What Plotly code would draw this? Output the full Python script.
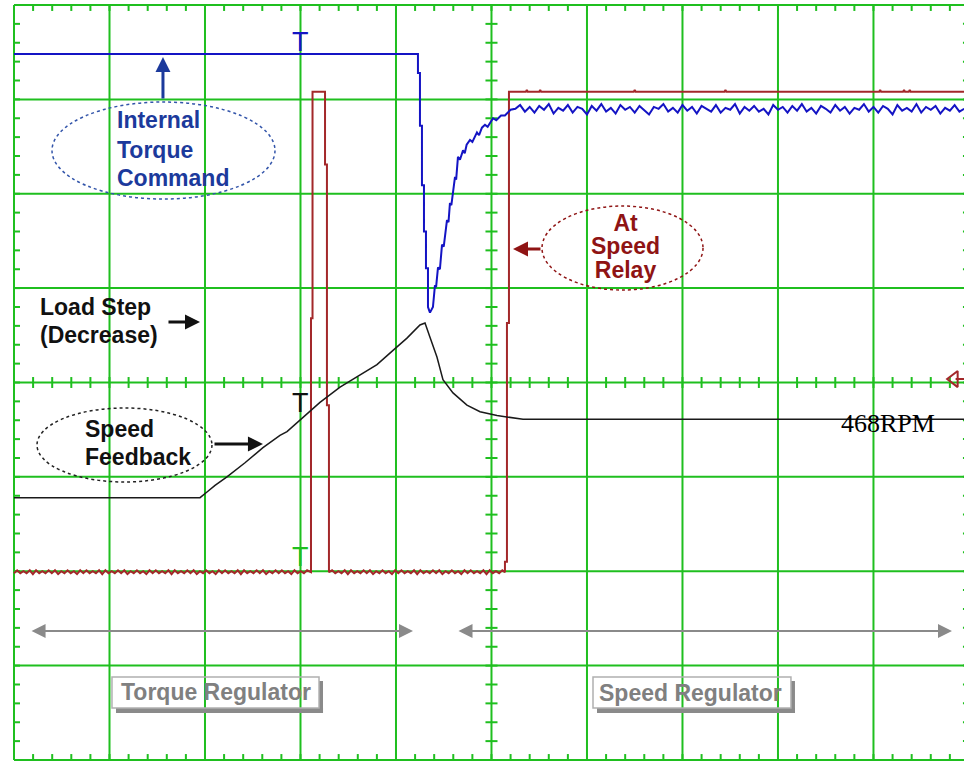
import numpy as np
import plotly.graph_objects as go

# ---------------- data (x and y in screen divisions) ----------------
X_MAX = 9.948

# Internal Torque Command (blue)
blue_x = [0, 4.23, 4.23, 4.251, 4.251, 4.272, 4.272, 4.293, 4.293, 4.314,
          4.314, 4.335, 4.335, 4.356, 4.387, 4.408, 4.42, 4.44, 4.46, 4.482,
          4.50, 4.513, 4.534, 4.55, 4.565, 4.58, 4.597, 4.618, 4.63, 4.649,
          4.67, 4.702, 4.72, 4.74, 4.775, 4.80, 4.848, 4.87, 4.90, 4.932,
          4.96, 5.016, 5.05, 5.10, 5.141, 5.20]
blue_y = [7.48, 7.48, 7.28, 7.28, 6.72, 6.72, 6.09, 6.09, 5.60, 5.60,
          5.21, 5.21, 4.80, 4.74, 4.80, 5.03, 5.01, 5.22, 5.20, 5.46,
          5.44, 5.56, 5.72, 5.70, 5.90, 5.88, 6.04, 6.18, 6.15, 6.39,
          6.36, 6.46, 6.43, 6.52, 6.57, 6.55, 6.65, 6.62, 6.70, 6.73,
          6.71, 6.80, 6.78, 6.83, 6.83, 6.89]
blue_noise_start = 5.25
blue_noise_step = 0.05
blue_noise = [6.90, 6.94, 6.87, 6.92, 6.86, 6.93, 6.89, 6.95, 6.85, 6.91,
              6.88, 6.94, 6.86, 6.92, 6.90, 6.84, 6.93, 6.88, 6.95, 6.87,
              6.91, 6.85, 6.94, 6.89, 6.92, 6.86, 6.93, 6.88, 6.84, 6.92,
              6.90, 6.95, 6.87, 6.91, 6.86, 6.94, 6.88, 6.92, 6.85, 6.93,
              6.90, 6.87, 6.94, 6.86, 6.91, 6.89, 6.95, 6.85, 6.92, 6.88,
              6.93, 6.87, 6.90, 6.84, 6.94, 6.89, 6.92, 6.86, 6.93, 6.88,
              6.95, 6.87, 6.91, 6.85, 6.93, 6.90, 6.86, 6.94, 6.88, 6.92,
              6.85, 6.91, 6.89, 6.95, 6.87, 6.92, 6.86, 6.93, 6.90, 6.84,
              6.94, 6.88, 6.91, 6.87, 6.95, 6.86, 6.92, 6.89, 6.93, 6.85,
              6.91, 6.88, 6.94, 6.87, 6.90]

# Speed Feedback (black)
black_x = [0, 1.948, 2.021, 2.105, 2.230, 2.419, 2.607, 2.785, 2.859, 2.995,
           3.131, 3.204, 3.414, 3.592, 3.801, 3.969, 4.115, 4.251, 4.304, 4.356,
           4.429, 4.492, 4.597, 4.743, 4.880, 5.058, 5.330, X_MAX]
black_y = [2.78, 2.78, 2.84, 2.91, 3.00, 3.15, 3.31, 3.44, 3.48, 3.60,
           3.73, 3.79, 3.95, 4.06, 4.19, 4.34, 4.47, 4.61, 4.63, 4.48,
           4.27, 4.03, 3.89, 3.76, 3.69, 3.65, 3.61, 3.61]

# At Speed Relay (red)
ripple_step = 0.033
ripple_a_start = 0.0
ripple_a = [1.98, 2.01, 1.98, 2.00, 1.98, 2.01, 1.97, 2.01, 1.98, 2.00,
            1.98, 2.01, 1.98, 2.01, 1.97, 2.00, 1.98, 2.01, 1.98, 2.00,
            1.97, 2.01, 1.98, 2.01, 1.98, 2.00, 1.98, 2.01, 1.97, 2.01,
            1.98, 2.00, 1.98, 2.01, 1.98, 2.01, 1.97, 2.00, 1.98, 2.01,
            1.98, 2.00, 1.97, 2.01, 1.98, 2.01, 1.98, 2.00, 1.98, 2.01,
            1.97, 2.01, 1.98, 2.00, 1.98, 2.01, 1.98, 2.01, 1.97, 2.00,
            1.98, 2.01, 1.98, 2.00, 1.97, 2.01, 1.98, 2.01, 1.98, 2.00,
            1.98, 2.01, 1.97, 2.01, 1.98, 2.00, 1.98, 2.01, 1.98, 2.01,
            1.97, 2.00, 1.98, 2.01, 1.98, 2.01, 1.98, 2.00, 1.97, 2.01,
            1.98, 2.00, 1.98, 2.01]
red_pulse_x = [3.11, 3.11, 3.126, 3.126, 3.257, 3.257, 3.277, 3.277, 3.298, 3.298]
red_pulse_y = [1.99, 4.68, 4.68, 7.08, 7.08, 6.31, 6.31, 3.76, 3.76, 1.99]
ripple_b_start = 3.331
ripple_b = [2.01, 1.98, 2.00, 1.98, 2.01, 1.97, 2.01, 1.98, 2.00, 1.98,
            2.01, 1.98, 2.01, 1.97, 2.00, 1.98, 2.01, 1.98, 2.00, 1.97,
            2.01, 1.98, 2.01, 1.98, 2.00, 1.98, 2.01, 1.97, 2.01, 1.98,
            2.00, 1.98, 2.01, 1.98, 2.01, 1.97, 2.00, 1.98, 2.01, 1.98,
            2.00, 1.97, 2.01, 1.98, 2.01, 1.98, 2.00, 1.98, 2.01, 1.97,
            2.01, 1.98, 2.00, 1.98, 2.01]
red_rise_x = [5.141, 5.141, 5.162, 5.162, 5.183, 5.183, 5.36, 5.37, 5.38, 5.50, 5.51,
              5.52, 6.49, 6.50, 6.51, 7.44, 7.45, 7.46, 9.06, 9.07, 9.08, 9.31,
              9.32, 9.33, 9.37, 9.38, 9.39, X_MAX]
red_rise_y = [1.99, 2.10, 2.10, 4.63, 4.63, 7.08, 7.08, 7.10, 7.08, 7.08, 7.10,
              7.08, 7.08, 7.10, 7.08, 7.08, 7.10, 7.08, 7.08, 7.10, 7.08, 7.08,
              7.10, 7.08, 7.08, 7.10, 7.08, 7.08]

# ---------------- build ----------------
GREEN = "#1fbf1f"
BLUE = "#1414c4"
RED = "#a3282a"
DARKRED = "#8f1414"
NAVY = "#1c3a9c"
GRAY = "#8a8a8a"

fig = go.Figure()

shapes = []
for i in range(11):
    shapes.append(dict(type="line", xref="x", yref="y", x0=i, x1=i, y0=0, y1=8,
                       line=dict(color=GREEN, width=2), layer="below"))
for j in range(9):
    shapes.append(dict(type="line", xref="x", yref="y", x0=0, x1=10, y0=j, y1=j,
                       line=dict(color=GREEN, width=2), layer="below"))

# graticule tick marks
tx, ty = [], []
def seg(x0, y0, x1, y1):
    tx.extend([x0, x1, None]); ty.extend([y0, y1, None])
for k in range(51):
    x = k * 0.2
    seg(x, 4 - 0.058, x, 4 + 0.058)
    seg(x, 8, x, 8 - 0.063)
    seg(x, 0, x, 0.063)
for k in range(41):
    y = k * 0.2
    seg(5 - 0.063, y, 5 + 0.063, y)
    seg(0, y, 0.063, y)
    seg(10, y, 10 - 0.063, y)
fig.add_trace(go.Scatter(x=tx, y=ty, mode="lines", line=dict(color=GREEN, width=2),
                         hoverinfo="skip", showlegend=False))

# red trace
rx = [ripple_a_start + i * ripple_step for i in range(len(ripple_a))] + red_pulse_x + \
     [ripple_b_start + i * ripple_step for i in range(len(ripple_b))] + red_rise_x
ry = list(ripple_a) + red_pulse_y + list(ripple_b) + red_rise_y
fig.add_trace(go.Scatter(x=rx, y=ry, mode="lines", line=dict(color=RED, width=2),
                         hoverinfo="skip", showlegend=False))

# black trace
fig.add_trace(go.Scatter(x=black_x, y=black_y, mode="lines", line=dict(color="#1a1a1a", width=1.5),
                         hoverinfo="skip", showlegend=False))

# blue trace
bx = blue_x + [blue_noise_start + i * blue_noise_step for i in range(len(blue_noise))]
by = blue_y + blue_noise
fig.add_trace(go.Scatter(x=bx, y=by, mode="lines", line=dict(color=BLUE, width=2),
                         hoverinfo="skip", showlegend=False))

# trigger-level marker at right edge
fig.add_trace(go.Scatter(x=[9.86, 9.95], y=[4.037, 4.037], mode="lines",
                         line=dict(color=RED, width=2), hoverinfo="skip", showlegend=False))
fig.add_trace(go.Scatter(x=[9.845], y=[4.037], mode="markers",
                         marker=dict(symbol="triangle-left-open", size=14, color=RED,
                                     line=dict(color=RED, width=2)),
                         hoverinfo="skip", showlegend=False))

# ellipses
shapes.append(dict(type="circle", xref="x", yref="y", x0=0.398, x1=2.733, y0=5.944, y1=6.972,
                   line=dict(color="#3355aa", width=1.5, dash="dot")))
shapes.append(dict(type="circle", xref="x", yref="y", x0=0.241, x1=2.073, y0=2.946, y1=3.730,
                   line=dict(color="#222222", width=1.5, dash="dot")))
shapes.append(dict(type="circle", xref="x", yref="y", x0=5.529, x1=7.215, y0=4.980, y1=5.870,
                   line=dict(color=DARKRED, width=1.5, dash="dot")))

# regulator boxes with shadow
for (bx0, bx1) in [(1.026, 3.194), (6.063, 8.136)]:
    shapes.append(dict(type="line", xref="x", yref="y", x0=bx0 + 0.042, x1=bx1 + 0.042, y0=0.524, y1=0.524,
                       line=dict(color=GRAY, width=5)))
    shapes.append(dict(type="line", xref="x", yref="y", x0=bx1 + 0.021, x1=bx1 + 0.021, y0=0.498, y1=0.837,
                       line=dict(color=GRAY, width=4)))
    shapes.append(dict(type="rect", xref="x", yref="y", x0=bx0, x1=bx1, y0=0.551, y1=0.879,
                       line=dict(color="#b0b0b0", width=1.5)))

fig.update_layout(shapes=shapes)

def txt(x, y, s, color, size=23, bold=True, family="Liberation Sans", xanchor="left", align="left"):
    fig.add_annotation(x=x, y=y, xref="x", yref="y", text=(f"<b>{s}</b>" if bold else s),
                       showarrow=False, font=dict(family=family, size=size, color=color),
                       xanchor=xanchor, yanchor="middle", align=align)

def arrow(x0, y0, x1, y1, color, width=3, head=2, size=1.0, both=False):
    fig.add_annotation(x=x1, y=y1, ax=x0, ay=y0, xref="x", yref="y", axref="x", ayref="y",
                       text="", showarrow=True, arrowhead=head, arrowsize=size, arrowwidth=width,
                       arrowcolor=color, standoff=0, startstandoff=0,
                       arrowside=("end+start" if both else "end"), startarrowhead=head,
                       startarrowsize=size)

txt(1.058, 6.781, "Internal", NAVY)
txt(1.058, 6.464, "Torque", NAVY)
txt(1.058, 6.167, "Command", NAVY)
arrow(1.560, 6.993, 1.560, 7.449, NAVY)

txt(0.251, 4.800, "Load Step", "#111111")
txt(0.251, 4.503, "(Decrease)", "#111111")
arrow(1.602, 4.641, 1.948, 4.641, "#111111")

txt(0.723, 3.507, "Speed", "#111111")
txt(0.723, 3.211, "Feedback", "#111111")
arrow(2.084, 3.348, 2.607, 3.348, "#111111")

# tight line spacing: small base font, larger spans
relay_lines = ["At", "Speed", "Relay"]
fig.add_annotation(x=6.408, y=5.446, xref="x", yref="y",
                   text="<br>".join(f'<span style="font-size:23px"><b>{s}</b></span>' for s in relay_lines),
                   showarrow=False, font=dict(family="Liberation Sans", size=18, color=DARKRED),
                   xanchor="center", yanchor="middle", align="center")
arrow(5.529, 5.415, 5.225, 5.415, DARKRED)

arrow(0.168, 1.367, 4.178, 1.367, GRAY, width=2, head=2, size=1.4, both=True)
arrow(4.639, 1.367, 9.822, 1.367, GRAY, width=2, head=2, size=1.4, both=True)

txt(2.115, 0.721, "Torque Regulator", "#808080", xanchor="center")
txt(7.089, 0.710, "Speed Regulator", "#808080", xanchor="center")

txt(8.639, 3.566, "468RPM", "#000000", size=26, bold=False, family="Liberation Serif")

txt(3.005, 7.603, "T", BLUE, size=27, bold=False, xanchor="center")
txt(3.005, 3.778, "T", "#111111", size=27, bold=False, xanchor="center")
txt(3.005, 2.146, "T", GREEN, size=27, bold=False, xanchor="center")

fig.update_layout(
    width=964, height=761,
    margin=dict(l=13, r=0, t=4, b=0, pad=0),
    paper_bgcolor="white", plot_bgcolor="white",
    xaxis=dict(range=[-1 / 95.5, X_MAX], visible=False, fixedrange=True),
    yaxis=dict(range=[-1 / 94.375, 8 + 1 / 94.375], visible=False, fixedrange=True),
    showlegend=False,
)

fig.write_html("out.html")
